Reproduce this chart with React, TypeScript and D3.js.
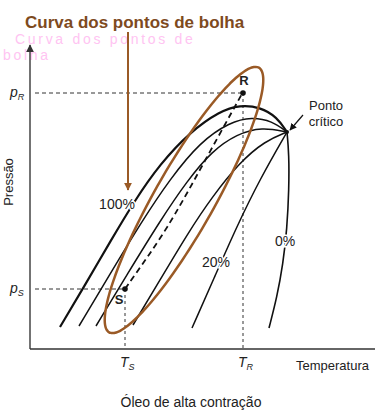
import React from 'react';
import * as d3 from 'd3';

const W = 375;
const H = 420;

// Schematic units: temperature 0–345, pressure 0–300 (no real values on the axes)
const line100: [number, number][] = [[30,22],[55,64],[80,107],[105,149],[130,185],[160,217],[190,238],[210,244],[230,242],[247,232],[257,217]];
const line80: [number, number][] = [[49,23],[80,75],[112,128],[140,170],[170,207],[200,227],[222,232],[242,228],[257,217]];
const line60: [number, number][] = [[66,23],[98,76],[130,128],[157,168],[182,198],[207,215],[232,222],[257,217]];
const line40: [number, number][] = [[103,24],[130,69],[158,116],[182,152],[210,187],[235,208],[257,217]];
const line20: [number, number][] = [[162,21],[185,73],[207,123],[230,170],[257,217]];
const line0: [number, number][] = [[257,217],[259,195],[259,160],[257,120],[253,85],[247,52],[239,21]];
const pathSR: [number, number][] = [[95,60],[119,94],[143,130],[178,194],[213,257]];

const criticalPoint: [number, number] = [257, 217];
const pointR: [number, number] = [213, 256];
const pointS: [number, number] = [95, 60];

const qualityLabels = [
  { text: '100%', t: 87, p: 140 },
  { text: '20%', t: 186, p: 82 },
  { text: '0%', t: 255, p: 103 },
];

// bubble-point highlight ellipse (centre, semi-axes, tilt in degrees)
const ellipseCentre: [number, number] = [154, 149];
const ellipseAxes: [number, number] = [152, 30];
const ellipseTilt = 60.5;

const titleArrow: [number, number][] = [[98, 317], [98, 159]];
const criticalArrow: [number, number][] = [[273, 234], [260, 219]];

const xMax = 345;
const yMax = 304;

export default function App() {
  const x = d3.scaleLinear().domain([0, 345]).range([30, 375]);
  const y = d3.scaleLinear().domain([0, 300]).range([349, 49]);

  const line = d3
    .line<[number, number]>()
    .x((d) => x(d[0]))
    .y((d) => y(d[1]))
    .curve(d3.curveBasis);

  const ellPts: [number, number][] = d3.range(0, 360, 3).map((deg) => {
    const t = (deg * Math.PI) / 180;
    const phi = (ellipseTilt * Math.PI) / 180;
    const [a, b] = ellipseAxes;
    return [
      ellipseCentre[0] + a * Math.cos(phi) * Math.cos(t) - b * Math.sin(phi) * Math.sin(t),
      ellipseCentre[1] + a * Math.sin(phi) * Math.cos(t) + b * Math.cos(phi) * Math.sin(t),
    ];
  });
  const ellipsePath = d3
    .line<[number, number]>()
    .x((d) => x(d[0]))
    .y((d) => y(d[1]))
    .curve(d3.curveCardinalClosed)(ellPts);

  const font = "'Liberation Sans', Arial, Helvetica, sans-serif";
  const brown = '#9a5a26';
  const ink = '#111';

  return (
    <svg width={W} height={H} style={{ position: 'absolute', left: 0, top: 0, background: '#fff' }} fontFamily={font}>
      <defs>
        <marker id="arrBlack" viewBox="0 0 10 10" refX="9" refY="5" markerWidth="7" markerHeight="7" orient="auto-start-reverse" markerUnits="userSpaceOnUse">
          <path d="M0,0 L10,5 L0,10 z" fill="#111" />
        </marker>
        <marker id="arrAxis" viewBox="0 0 10 10" refX="9" refY="5" markerWidth="8" markerHeight="8" orient="auto-start-reverse" markerUnits="userSpaceOnUse">
          <path d="M0,0 L10,5 L0,10 z" fill="#333" />
        </marker>
        <marker id="arrBrown" viewBox="0 0 10 10" refX="9" refY="5" markerWidth="8" markerHeight="8" orient="auto-start-reverse" markerUnits="userSpaceOnUse">
          <path d="M0,0 L10,5 L0,10 z" fill={brown} />
        </marker>
      </defs>

      {/* faint ghost caption */}
      <text x={15} y={44} fontSize={14} letterSpacing={2.7} fill="#ffc4f2">Curva dos pontos de</text>
      <text x={3} y={60} fontSize={14} letterSpacing={2.7} fill="#ffc4f2">bolha</text>

      {/* title */}
      <text x={25} y={28} fontSize={17} fontWeight="bold" fill="#7e4a1e">Curva dos pontos de bolha</text>

      {/* axes */}
      <line x1={x(0)} y1={y(0)} x2={x(0)} y2={y(yMax)} stroke="#444" strokeWidth={1.5} markerEnd="url(#arrAxis)" />
      <line x1={x(0)} y1={y(0)} x2={x(xMax)} y2={y(0)} stroke="#333" strokeWidth={1.5} />

      {/* reference dashed lines */}
      <line x1={x(5)} y1={y(pointR[1])} x2={x(pointR[0])} y2={y(pointR[1])} stroke="#333" strokeWidth={1} strokeDasharray="4,3" />
      <line x1={x(5)} y1={y(pointS[1])} x2={x(pointS[0])} y2={y(pointS[1])} stroke="#333" strokeWidth={1} strokeDasharray="4,3" />
      <line x1={x(pointR[0])} y1={y(pointR[1])} x2={x(pointR[0])} y2={y(0)} stroke="#333" strokeWidth={1} strokeDasharray="3,3" />
      <line x1={x(pointS[0])} y1={y(pointS[1])} x2={x(pointS[0])} y2={y(0)} stroke="#333" strokeWidth={1} strokeDasharray="3,3" />

      {/* quality lines */}
      <path d={line(line100) || ''} fill="none" stroke={ink} strokeWidth={2.2} />
      <path d={line(line80) || ''} fill="none" stroke={ink} strokeWidth={1.5} />
      <path d={line(line60) || ''} fill="none" stroke={ink} strokeWidth={1.5} />
      <path d={line(line40) || ''} fill="none" stroke={ink} strokeWidth={1.5} />
      <path d={line(line20) || ''} fill="none" stroke={ink} strokeWidth={1.5} />
      <path d={line(line0) || ''} fill="none" stroke={ink} strokeWidth={1.6} />
      <path d={line(pathSR) || ''} fill="none" stroke={ink} strokeWidth={1.8} strokeDasharray="6,4" />

      {/* ellipse */}
      <path d={ellipsePath || ''} fill="none" stroke={brown} strokeWidth={2.5} />

      {/* points */}
      <circle cx={x(pointR[0])} cy={y(pointR[1])} r={2.8} fill={ink} />
      <circle cx={x(pointS[0])} cy={y(pointS[1])} r={2.8} fill={ink} />
      <circle cx={x(criticalPoint[0])} cy={y(criticalPoint[1])} r={2} fill={ink} />

      {/* quality labels */}
      {qualityLabels.map((l) => (
        <text key={l.text} x={x(l.t)} y={y(l.p)} fontSize={14} textAnchor="middle" fill="#222"
          stroke="#fff" strokeWidth={3} paintOrder="stroke">{l.text}</text>
      ))}

      {/* arrows */}
      <line x1={x(titleArrow[0][0])} y1={y(titleArrow[0][1])} x2={x(titleArrow[1][0])} y2={y(titleArrow[1][1])}
        stroke={brown} strokeWidth={2} markerEnd="url(#arrBrown)" />
      <line x1={x(criticalArrow[0][0])} y1={y(criticalArrow[0][1])} x2={x(criticalArrow[1][0])} y2={y(criticalArrow[1][1])}
        stroke={ink} strokeWidth={1.2} markerEnd="url(#arrBlack)" />

      {/* point labels */}
      <text x={x(pointR[0]) + 1} y={y(pointR[1]) - 8} fontSize={13} fontWeight="bold" textAnchor="middle" fill="#222">R</text>
      <text x={x(pointS[0]) - 6} y={y(pointS[1]) + 15} fontSize={13} fontWeight="bold" textAnchor="middle" fill="#222">S</text>
      <text x={326} y={110} fontSize={13} textAnchor="middle" fill="#222">Ponto</text>
      <text x={326} y={126} fontSize={13} textAnchor="middle" fill="#222">crítico</text>

      {/* axis tick-style labels */}
      <text x={x(0) - 20} y={y(pointR[1]) + 4} fontSize={14} fontStyle="italic" fill="#222">p<tspan fontSize={9} dy={3}>R</tspan></text>
      <text x={x(0) - 20} y={y(pointS[1]) + 4} fontSize={14} fontStyle="italic" fill="#222">p<tspan fontSize={9} dy={3}>S</tspan></text>
      <text x={x(pointS[0]) - 5} y={y(0) + 18} fontSize={14} fontStyle="italic" fill="#222">T<tspan fontSize={9} dy={3}>S</tspan></text>
      <text x={x(pointR[0]) - 5} y={y(0) + 18} fontSize={14} fontStyle="italic" fill="#222">T<tspan fontSize={9} dy={3}>R</tspan></text>

      {/* axis titles */}
      <text transform={`translate(${x(0) - 17},182) rotate(-90)`} fontSize={13} textAnchor="middle" fill="#222">Pressão</text>
      <text x={296} y={370} fontSize={13} fill="#222">Temperatura</text>
      <text x={191} y={407} fontSize={14} textAnchor="middle" fill="#222">Óleo de alta contração</text>
    </svg>
  );
}
